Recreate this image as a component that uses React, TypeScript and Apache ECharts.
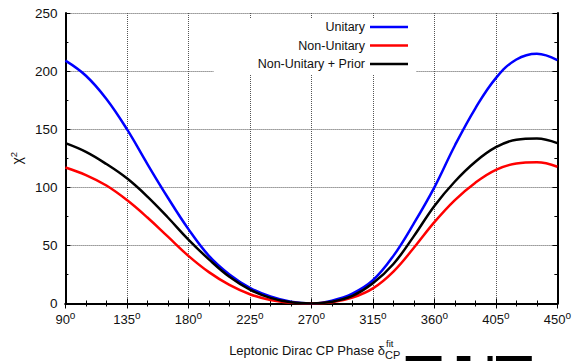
import React, { useEffect, useRef } from "react";
import * as echarts from "echarts";

const FONT = "'Liberation Sans', Arial, Helvetica, sans-serif";

const phaseDeg = [90, 105, 120, 135, 150, 165, 180, 195, 210, 225, 240, 255, 270, 285, 300, 315, 330, 345, 360, 375, 390, 405, 420, 435, 450];
const unitary = [209, 196, 176, 150, 120, 91, 64, 41, 25, 13.5, 6, 1.5, 0, 2.5, 8.5, 20, 41, 69, 100, 136, 168, 194, 210, 215, 209.5];
const nonUnitary = [117, 110.5, 101.5, 89, 74, 57.5, 41, 27, 16, 8, 3, 0.6, 0, 1, 5, 13, 27.5, 48, 70, 89, 104, 115, 120.5, 121.5, 117.7];
const nonUnitaryPrior = [138, 130.5, 120, 107.7, 92, 74, 55, 38, 23, 12, 4.8, 1, 0, 1.5, 6.5, 17.4, 34, 58, 84, 105, 122, 134.5, 141, 142, 138];

const seriesNames = ["Unitary", "Non-Unitary", "Non-Unitary + Prior"];
const seriesColors = ["#0000ff", "#ff0000", "#000000"];
const seriesValues = [unitary, nonUnitary, nonUnitaryPrior];

const xMin = 90, xMax = 450, xStep = 45;
const yMin = 0, yMax = 250, yStep = 50;
const xTitle = "Leptonic Dirac CP Phase δ";
const xTitleSup = "fit";
const xTitleSub = "CP";

export default function App() {
  const ref = useRef<HTMLDivElement>(null);
  useEffect(() => {
    if (!ref.current) return;
    const chart = echarts.init(ref.current, null, { renderer: "svg" });
    const axisLine = { show: true, lineStyle: { color: "#000", width: 2 } };
    const tick = { show: true, inside: true, length: 5, lineStyle: { color: "#000", width: 1 } };
    const minor = { show: true, splitNumber: 3, length: 3, lineStyle: { color: "#000", width: 1 } };
    const minorY = { show: true, splitNumber: 2, length: 3, lineStyle: { color: "#000", width: 1 } };
    const split = { show: true, lineStyle: { color: "#555", width: 1, type: [1, 1] } };
    chart.setOption({
      animation: false,
      backgroundColor: "#fff",
      textStyle: { fontFamily: FONT },
      grid: { left: 65, right: 16.5, top: 13, bottom: 57.5, containLabel: false },
      legend: {
        orient: "vertical",
        align: "right",
        right: 158,
        top: 19,
        padding: [1, 8, 4, 44],
        backgroundColor: "#fff",
        icon: "rect",
        itemWidth: 38,
        itemHeight: 2.5,
        itemGap: 4.5,
        textStyle: { fontFamily: FONT, fontSize: 12.5, color: "#111", lineHeight: 14 },
        data: seriesNames,
      },
      xAxis: [
        {
          type: "value", min: xMin, max: xMax, interval: xStep, position: "bottom",
          axisLine, axisTick: tick, minorTick: minor, splitLine: split,
          axisLabel: {
            margin: 7,
            formatter: (v: number) => `{a|${v}}{b|o}`,
            rich: {
              a: { fontFamily: FONT, fontSize: 13, color: "#111", lineHeight: 18 },
              b: { fontFamily: FONT, fontSize: 10, color: "#111", lineHeight: 8, verticalAlign: "top" },
            },
          },
        },
        {
          type: "value", min: xMin, max: xMax, interval: xStep, position: "top",
          axisLine, axisTick: tick, minorTick: minor, splitLine: { show: false },
          axisLabel: { show: false },
        },
      ],
      yAxis: [
        {
          type: "value", min: yMin, max: yMax, interval: yStep, position: "left",
          axisLine, axisTick: tick, minorTick: minorY, splitLine: split,
          axisLabel: { margin: 8, fontFamily: FONT, fontSize: 13.5, color: "#111" },
          name: "{a|χ}{b|2}",
          nameLocation: "middle",
          nameGap: 34,
          nameRotate: 90,
          nameTextStyle: {
            rich: {
              a: { fontFamily: FONT, fontSize: 14, color: "#111", lineHeight: 18 },
              b: { fontFamily: FONT, fontSize: 9.5, color: "#111", lineHeight: 8, verticalAlign: "top" },
            },
          },
        },
        {
          type: "value", min: yMin, max: yMax, interval: yStep, position: "right",
          axisLine, axisTick: tick, minorTick: minorY, splitLine: { show: false },
          axisLabel: { show: false },
        },
      ],
      series: seriesNames.map((name, i) => ({
        name,
        type: "line",
        xAxisIndex: 0,
        yAxisIndex: 0,
        smooth: 0.4,
        symbol: "none",
        color: seriesColors[i],
        lineStyle: { color: seriesColors[i], width: 2.5 },
        data: phaseDeg.map((d, j) => [d, seriesValues[i][j]]),
        z: 3,
      })),
      graphic: [
        {
          type: "text", x: 385, y: 350, z: 10,
          style: { text: xTitle, fontFamily: FONT, fontSize: 13, fill: "#111", align: "right", verticalAlign: "middle" },
        },
        {
          type: "text", x: 386, y: 343, z: 10,
          style: { text: xTitleSup, fontFamily: FONT, fontSize: 9.5, fill: "#111", align: "left", verticalAlign: "middle" },
        },
        {
          type: "text", x: 385, y: 355, z: 10,
          style: { text: xTitleSub, fontFamily: FONT, fontSize: 11, fill: "#111", align: "left", verticalAlign: "middle" },
        },
        { type: "rect", shape: { x: 405.7, y: 356, width: 35.8, height: 8 }, style: { fill: "#000" } },
        { type: "rect", shape: { x: 456.8, y: 356, width: 13.6, height: 8 }, style: { fill: "#000" } },
        { type: "rect", shape: { x: 487.5, y: 356, width: 5.1, height: 8 }, style: { fill: "#000" } },
        { type: "rect", shape: { x: 496, y: 356, width: 35.8, height: 8 }, style: { fill: "#000" } },
      ],
    });
    return () => chart.dispose();
  }, []);
  return (
    <div
      ref={ref}
      style={{ position: "fixed", left: 0, top: 0, width: 574, height: 361, background: "#fff" }}
    />
  );
}
